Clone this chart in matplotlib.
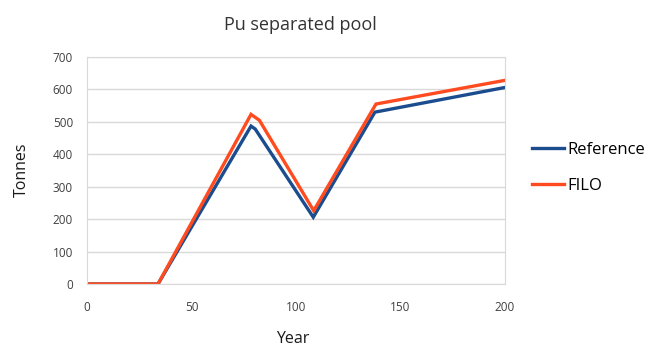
import matplotlib
matplotlib.use("Agg")
import matplotlib.pyplot as plt

plt.rcParams['font.family'] = ['Open Sans', 'DejaVu Sans']

ref_years = [0, 34, 78.5, 80.5, 108.3, 137.8, 200]
ref_vals = [0, 0, 487, 478, 206, 530, 606]
filo_years = [0, 34, 78.5, 82.5, 108.5, 138.3, 200]
filo_vals = [0, 0, 523, 505, 226, 555, 628]
yticks = [0, 100, 200, 300, 400, 500, 600, 700]
xticks = [0, 50, 100, 150, 200]

fig = plt.figure(figsize=(6.54, 3.47), dpi=100)
ax = fig.add_axes([0.133, 0.1816, 0.639, 0.6541])
ax.plot(ref_years, ref_vals, color='#1b4d8e', lw=2.4, label='Reference', solid_joinstyle='miter')
ax.plot(filo_years, filo_vals, color='#ff4b1f', lw=2.4, label='FILO', solid_joinstyle='miter')
ax.set_xlim(0, 200)
ax.set_ylim(0, 700)
ax.set_xticks(xticks)
ax.set_yticks(yticks)
ax.grid(axis='y', color='#d9d9d9', lw=1)
ax.set_axisbelow(True)
for s in ax.spines.values():
    s.set_color('#d9d9d9')
ax.tick_params(length=0, labelsize=8.5, colors='#404040')
ax.tick_params(axis='x', pad=12)
ax.tick_params(axis='y', pad=10)
fig.text(293 / 654, 1 - 343 / 347, 'Year', ha='center', va='baseline', fontsize=11.5, color='#1a1a1a')
fig.text(22 / 654, 1 - 170 / 347, 'Tonnes', ha='center', va='center', rotation=90, fontsize=11.5, color='#1a1a1a')
fig.text(0.459, 0.928, 'Pu separated pool', ha='center', va='center', fontsize=13, color='#333333')
leg = ax.legend(loc='center left', bbox_to_anchor=(1.03, 0.51), frameon=False, fontsize=12,
                handlelength=1.9, handletextpad=0.2, labelspacing=1.2)
fig.savefig('out.png', dpi=100)
